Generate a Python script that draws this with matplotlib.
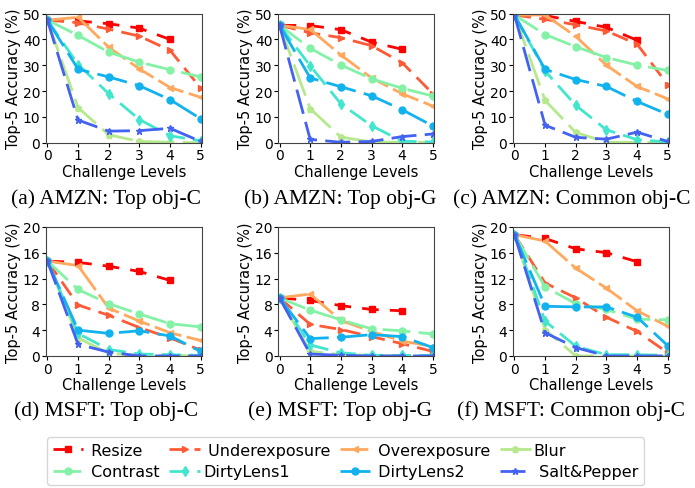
"""Top-5 accuracy vs. challenge level for AMZN / MSFT object recognition."""

import numpy as np
import matplotlib
matplotlib.use("Agg")
import matplotlib.pyplot as plt

levels = np.arange(6)
challenges = ["Resize", "Underexposure", "Overexposure", "Blur",
              "Contrast", "DirtyLens1", "DirtyLens2", "Salt&Pepper"]
legend_labels = [" Resize", " Underexposure", " Overexposure", "Blur",
                 " Contrast", "DirtyLens1", " DirtyLens2", " Salt&Pepper"]
colors = ["#ff0000", "#ff5a36", "#ffa85e", "#b6e88c",
          "#84f2a6", "#42e6cc", "#12b2ee", "#4462f2"]
markers = ["s", ">", "<", "p", "o", "d", "o", "*"]
dashes = [(0, (6, 4)), (0, (6, 3)), (0, (10, 2)), (0, (12, 3)),
          (0, (10, 3)), (0, (7, 3)), (0, (11, 3)), (0, (9, 3))]

captions = ["(a) AMZN: Top obj-C", "(b) AMZN: Top obj-G", "(c) AMZN: Common obj-C",
            "(d) MSFT: Top obj-C", "(e) MSFT: Top obj-G", "(f) MSFT: Common obj-C"]

# values per panel, one list per challenge (Resize only goes to level 4)
amzn_top_c = [
    [47.5, 47.2, 46.1, 44.4, 40.0],
    [47.5, 46.5, 44.0, 41.3, 35.8, 21.2],
    [47.5, 48.6, 37.0, 28.6, 21.4, 17.6],
    [47.5, 13.6, 3.1, 0.5, 0.2, 0.0],
    [47.5, 41.6, 35.1, 31.2, 28.3, 25.5],
    [47.5, 30.3, 19.0, 9.0, 2.7, 0.8],
    [47.5, 28.5, 25.5, 22.1, 16.7, 9.3],
    [47.5, 8.8, 4.5, 4.7, 5.6, 0.5],
]
amzn_top_g = [
    [45.5, 45.4, 43.8, 39.0, 36.2],
    [45.5, 42.6, 40.7, 37.6, 31.0, 19.0],
    [45.5, 43.9, 34.0, 25.1, 19.0, 14.2],
    [45.5, 13.2, 2.2, 0.3, 0.2, 0.1],
    [45.5, 36.6, 30.1, 24.8, 21.1, 18.1],
    [45.5, 29.8, 15.1, 6.6, 0.6, 0.3],
    [45.5, 25.1, 21.7, 18.2, 12.8, 6.5],
    [45.5, 1.3, 0.2, 0.5, 2.4, 3.4],
]
amzn_common_c = [
    [49.5, 49.3, 47.0, 44.7, 39.7],
    [49.5, 47.8, 45.7, 43.3, 38.2, 22.5],
    [49.5, 49.5, 41.2, 30.0, 21.8, 17.0],
    [49.5, 16.4, 4.0, 0.2, 0.1, 0.0],
    [49.5, 41.9, 37.2, 33.0, 30.1, 28.0],
    [49.5, 27.8, 14.5, 5.0, 1.2, 0.3],
    [49.5, 28.4, 24.5, 21.8, 16.0, 11.0],
    [49.5, 6.8, 2.1, 1.4, 4.1, 0.5],
]
msft_top_c = [
    [14.7, 14.5, 13.9, 13.1, 11.7],
    [14.7, 7.9, 6.3, 4.4, 2.8, 0.9],
    [14.7, 14.0, 7.4, 5.4, 3.6, 2.4],
    [14.7, 2.8, 0.4, 0.1, 0.1, 0.0],
    [14.7, 10.3, 8.1, 6.5, 5.0, 4.5],
    [14.7, 3.5, 1.0, 0.3, 0.2, 0.1],
    [14.7, 4.0, 3.5, 3.9, 3.1, 0.7],
    [14.7, 1.8, 0.6, 0.0, 0.0, 0.0],
]
msft_top_g = [
    [9.0, 8.6, 7.8, 7.2, 7.0],
    [9.0, 4.9, 4.1, 3.0, 1.9, 0.7],
    [9.0, 9.6, 5.5, 3.8, 2.3, 1.5],
    [9.0, 0.7, 0.2, 0.1, 0.0, 0.0],
    [9.0, 7.1, 5.6, 4.2, 3.9, 3.4],
    [9.0, 1.7, 0.5, 0.1, 0.1, 0.1],
    [9.0, 2.7, 2.9, 3.3, 3.0, 1.3],
    [9.0, 0.3, 0.1, 0.0, 0.0, 0.0],
]
msft_common_c = [
    [18.8, 18.2, 16.6, 16.0, 14.6],
    [18.8, 11.3, 9.0, 6.0, 3.8, 0.5],
    [18.8, 17.8, 13.6, 10.5, 7.0, 4.6],
    [18.8, 4.1, 0.0, 0.0, 0.0, 0.0],
    [18.8, 10.7, 8.1, 7.2, 5.7, 5.6],
    [18.8, 5.4, 1.5, 0.2, 0.2, 0.1],
    [18.8, 7.7, 7.6, 7.6, 6.0, 1.6],
    [18.8, 3.6, 1.3, 0.0, 0.0, 0.0],
]

panels = [amzn_top_c, amzn_top_g, amzn_common_c,
          msft_top_c, msft_top_g, msft_common_c]
ymax = [50, 50, 50, 20, 20, 20]
ystep = [10, 10, 10, 4, 4, 4]

fig = plt.figure(figsize=(6.95, 4.89), dpi=100)

lefts = [0.066, 0.400, 0.738]
bottoms = [0.706, 0.270]
width, height = 0.225, 0.264
caption_x = [0.153, 0.489, 0.822]
caption_y = [0.592, 0.160]

handles = []
for i, data in enumerate(panels):
    row, col = divmod(i, 3)
    ax = fig.add_axes([lefts[col], bottoms[row], width, height])
    for k, vals in enumerate(data):
        ln, = ax.plot(levels[:len(vals)], vals, color=colors[k], marker=markers[k],
                      linestyle=dashes[k], linewidth=2, markersize=5,
                      label=legend_labels[k])
        if i == 0:
            handles.append(ln)
    ax.set_xlim(-0.05, 5.05)
    ax.set_ylim(0, ymax[i])
    ax.set_xticks(levels)
    ax.set_yticks(np.arange(0, ymax[i] + 1, ystep[i]))
    ax.tick_params(labelsize=10, length=3, pad=1)
    ax.set_xlabel("Challenge Levels", fontsize=10.5, labelpad=1)
    ax.set_ylabel("Top-5 Accuracy (%)", fontsize=10.5, labelpad=1)
    for s in ax.spines.values():
        s.set_color("#444444")
    fig.text(caption_x[col], caption_y[row], captions[i], ha="center", va="center",
             fontsize=15.5, family="Liberation Serif")

# legend: matplotlib fills columns first, so reorder to get rows
order = [0, 4, 1, 5, 2, 6, 3, 7]
fig.legend([handles[j] for j in order], [legend_labels[j] for j in order],
           loc="center", bbox_to_anchor=(0.497, 0.055), ncol=4, fontsize=11.5,
           handlelength=1.9, handletextpad=0.2, columnspacing=0.6,
           labelspacing=0.4, borderpad=0.35, frameon=True)

fig.savefig("out.png", dpi=100)
